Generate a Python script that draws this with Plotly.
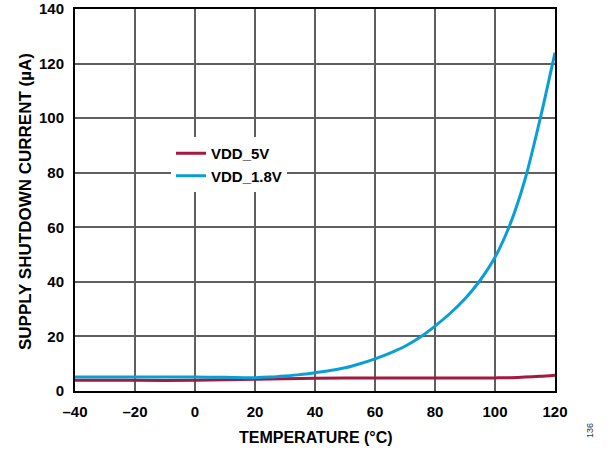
import plotly.graph_objects as go

# temperature (°C) and supply shutdown current (µA)
temp_5v = [-40, -20, 0, 20, 40, 60, 80, 100, 105, 110, 115, 120]
current_5v = [3.9, 3.9, 3.9, 4.3, 4.7, 4.8, 4.8, 4.8, 4.9, 5.1, 5.4, 5.8]

temp_1v8 = [-40, -20, 0, 10, 20, 25, 30, 35, 40, 45, 50, 55, 60, 65, 70, 75, 80,
            85, 90, 95, 100, 105, 110, 115, 120]
current_1v8 = [5.1, 5.1, 5.1, 5.0, 4.9, 5.1, 5.5, 6.0, 6.7, 7.5, 8.5, 10.0, 11.8,
               13.9, 16.4, 19.7, 23.8, 28.4, 33.8, 40.5, 49.0, 61.0, 77.5, 99.5, 124.0]

x_ticks = [-40, -20, 0, 20, 40, 60, 80, 100, 120]
x_tick_text = ["–40", "–20", "0", "20", "40", "60", "80", "100", "120"]
y_ticks = [0, 20, 40, 60, 80, 100, 120, 140]

font = "Liberation Sans, Arial, sans-serif"

fig = go.Figure()
fig.add_trace(go.Scatter(
    x=temp_5v, y=current_5v, name="VDD_5V", mode="lines",
    line=dict(color="#A3193F", width=3, shape="spline", smoothing=0.8),
))
fig.add_trace(go.Scatter(
    x=temp_1v8, y=current_1v8, name="VDD_1.8V", mode="lines",
    line=dict(color="#0A9FD4", width=3, shape="spline", smoothing=0.8),
))

axis_common = dict(
    showgrid=True, gridcolor="#5f5f5f", gridwidth=1.5,
    showline=True, linecolor="black", linewidth=2, mirror=True,
    zeroline=False, ticks="", automargin=False,
    tickfont=dict(family=font, size=15, color="black", weight="bold"),
)

fig.update_xaxes(
    range=[-40, 120], tickvals=x_ticks, ticktext=x_tick_text,
    ticklabelstandoff=6,
    **axis_common,
)
fig.update_yaxes(
    range=[0, 140], tickvals=y_ticks, ticklabelstandoff=6,
    **axis_common,
)

# plot area on screen: x 75..555, y 9..391
def px_x(p):
    return (p - 75) / 480

def px_y(p):
    return (391 - p) / 382

fig.update_layout(
    width=607, height=450,
    margin=dict(l=75, r=52, t=9, b=59),
    plot_bgcolor="white", paper_bgcolor="white",
    legend=dict(
        x=px_x(171), y=px_y(137), xanchor="left", yanchor="top",
        bgcolor="white", tracegroupgap=0,
        font=dict(family=font, size=15, color="black", weight="bold"),
    ),
    annotations=[
        dict(text="TEMPERATURE (°C)", x=px_x(316), y=px_y(437),
             xref="paper", yref="paper", showarrow=False,
             xanchor="center", yanchor="middle",
             font=dict(family=font, size=16, color="black", weight="bold")),
        dict(text="SUPPLY SHUTDOWN CURRENT (µA)", x=px_x(26), y=px_y(202),
             xref="paper", yref="paper", showarrow=False, textangle=-90,
             xanchor="center", yanchor="middle",
             font=dict(family=font, size=17, color="black", weight="bold")),
        dict(text="136", x=px_x(590), y=px_y(431),
             xref="paper", yref="paper", showarrow=False, textangle=-90,
             xanchor="center", yanchor="middle",
             font=dict(family=font, size=9, color="#333333")),
    ],
)

# drop the default 8px page margin so the figure fills the window
fig.write_html("out.html", config={"displayModeBar": False},
               post_script="document.body.style.margin='0';")
